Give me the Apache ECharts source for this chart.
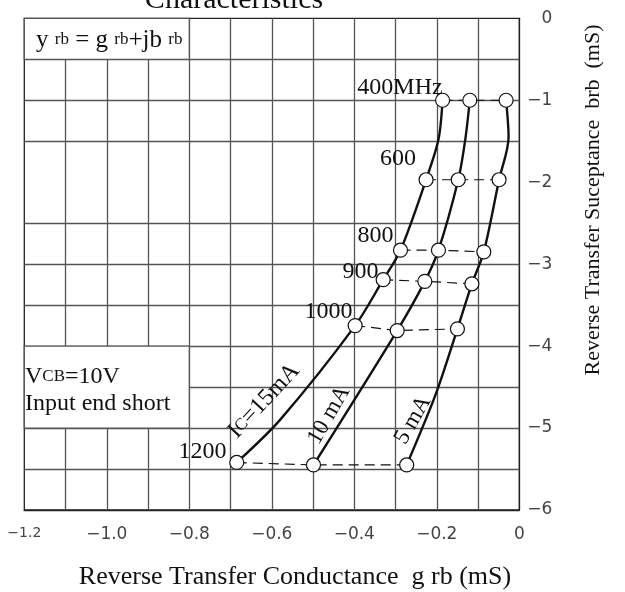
<!DOCTYPE html>
<html>
<head>
<meta charset="utf-8">
<script src="https://cdn.jsdelivr.net/npm/echarts@6/dist/echarts.min.js"></script>
<style>
html, body { margin: 0; padding: 0; background: #fff; }
#chart { width: 625px; height: 592px; }
</style>
</head>
<body>
<div id="chart"></div>
<script>
// frequencies marked with a circle on every curve
const freqs = [400, 600, 800, 900, 1000, 1200]
const freqText = ['400MHz', '600', '800', '900', '1000', '1200']

// Ic = 15 mA
const g15 = [-0.186, -0.226, -0.288, -0.330, -0.398, -0.685]
const b15 = [-1.00, -1.97, -2.83, -3.19, -3.75, -5.42]
// Ic = 10 mA
const g10 = [-0.120, -0.148, -0.196, -0.229, -0.296, -0.499]
const b10 = [-1.00, -1.97, -2.83, -3.21, -3.81, -5.45]
// Ic = 5 mA
const g5 = [-0.032, -0.049, -0.086, -0.115, -0.150, -0.273]
const b5 = [-1.00, -1.97, -2.85, -3.24, -3.79, -5.45]

const bend15 = [[-0.196, -1.48], [-0.580, -4.90]]
const bend10 = [[-0.131, -1.48]]
const bend5 = [[-0.026, -1.45], [-0.202, -4.58]]

// grid lines of the chart paper (the -2 line is not printed)
const xGrid = [-1.1, -1.0, -0.9, -0.8, -0.7, -0.6, -0.5, -0.4, -0.3, -0.2, -0.1]
const yGrid = [-0.5, -1, -1.5, -2.5, -3, -3.5, -4, -4.5, -5, -5.5]
// white label boxes cut out of the grid: [g1, b1, g2, b2]
const boxes = [[-1.2, 0, -0.8, -0.5], [-1.2, -4, -0.8, -5]]

const serif = '"Liberation Serif", "DejaVu Serif", serif'
const ink = '#111'
const paper = '#555'

const pairs = (g, b) => g.map((v, i) => [v, b[i]])
const path = (g, b, bends) => pairs(g, b).concat(bends).sort((p, q) => q[1] - p[1])

const curve = (name, data) => ({
  name,
  type: 'line',
  z: 4,
  smooth: 0.3,
  symbol: 'none',
  lineStyle: { color: ink, width: 2.4 },
  data,
})

const dashed = freqs.map((f, i) => ({
  name: f + 'MHz',
  type: 'line',
  z: 3,
  symbol: 'none',
  lineStyle: { color: ink, width: 1.2, type: [10, 6] },
  data: [[g15[i], b15[i]], [g10[i], b10[i]], [g5[i], b5[i]]],
}))

const circles = {
  type: 'scatter',
  z: 5,
  symbol: 'circle',
  symbolSize: 14,
  itemStyle: { color: '#fff', borderColor: ink, borderWidth: 1.2, opacity: 1 },
  data: pairs(g15, b15).concat(pairs(g10, b10), pairs(g5, b5)),
}

const gridLines = {
  type: 'line',
  z: 1,
  data: [],
  markLine: {
    silent: true,
    z: 1,
    animation: false,
    symbol: ['none', 'none'],
    label: { show: false },
    lineStyle: { color: paper, width: 1.3, type: 'solid' },
    data: xGrid.map(v => ({ xAxis: v })).concat(yGrid.map(v => ({ yAxis: v }))),
  },
}

const boxArea = {
  type: 'line',
  z: 2,
  data: [],
  markArea: {
    silent: true,
    z: 2,
    animation: false,
    itemStyle: { color: '#fff', borderColor: paper, borderWidth: 1.3, opacity: 1 },
    data: boxes.map(r => [{ xAxis: r[0], yAxis: r[1] }, { xAxis: r[2], yAxis: r[3] }]),
  },
}

const minus = v => (v === 0 ? '0' : '\u2212' + Math.abs(v))

const txt = (text, x, y, size, extra) => Object.assign({
  type: 'text',
  x,
  y,
  z: 10,
  style: {
    text,
    fontFamily: serif,
    fontSize: size,
    fill: ink,
    align: 'center',
    verticalAlign: 'middle',
  },
}, extra || {})

const richTxt = (text, x, y, big, small, align, rotation) => ({
  type: 'text', x, y, z: 10, rotation: rotation || 0,
  style: {
    text,
    fill: ink,
    align,
    verticalAlign: 'middle',
    rich: {
      m: { fontFamily: serif, fontSize: big, fill: ink },
      s: { fontFamily: serif, fontSize: small, fill: ink },
    },
  },
})

const deg = a => a * Math.PI / 180

const option = {
  animation: false,
  backgroundColor: '#fff',
  grid: {
    left: 24.3,
    right: 105.7,
    top: 18.3,
    bottom: 82,
    show: true,
    borderColor: '#222',
    borderWidth: 1.3,
    backgroundColor: '#fff',
  },
  xAxis: {
    type: 'value',
    min: -1.2,
    max: 0,
    interval: 0.2,
    splitLine: { show: false },
    axisTick: { show: false },
    axisLine: { show: true, onZero: false, lineStyle: { color: '#222', width: 1.3 } },
    axisLabel: {
      margin: 16,
      color: '#444',
      fontFamily: '"DejaVu Sans", sans-serif',
      fontSize: 17,
      formatter: v => {
        const s = v === 0 ? '0' : '\u2212' + Math.abs(v).toFixed(1)
        return v < -1.1 ? '{s|' + s + '}' : s
      },
      rich: { s: { fontSize: 14, fontFamily: '"DejaVu Sans", sans-serif', color: '#444' } },
    },
  },
  yAxis: {
    type: 'value',
    position: 'right',
    min: -6,
    max: 0,
    interval: 1,
    splitLine: { show: false },
    axisTick: { show: false },
    axisLine: { show: true, onZero: false, lineStyle: { color: '#222', width: 1.3 } },
    axisLabel: {
      align: 'right',
      margin: 33,
      color: '#444',
      fontFamily: '"DejaVu Sans", sans-serif',
      fontSize: 17,
      formatter: minus,
    },
  },
  series: [
    gridLines,
    boxArea,
    ...dashed,
    curve('Ic=15mA', path(g15, b15, bend15)),
    curve('10 mA', path(g10, b10, bend10)),
    curve('5 mA', path(g5, b5, bend5)),
    circles,
  ],
  graphic: [
    txt('Characteristics', 234, 0, 30),
    richTxt('{m|y }{s|rb}{m| = g }{s|rb}{m|+jb }{s|rb}', 36, 40, 25, 17, 'left'),
    richTxt('{m|V}{s|CB}{m|=10V}', 25, 377, 24, 17, 'left'),
    txt('Input end short', 25, 404, 24),
    txt(freqText[0], 400, 88, 24),
    txt(freqText[1], 398, 159, 24),
    txt(freqText[2], 375.5, 236, 24),
    txt(freqText[3], 360.5, 272, 24),
    txt(freqText[4], 328.5, 312, 24),
    txt(freqText[5], 202.5, 452, 24),
    richTxt('{m|I}{s|C}{m|=15mA}', 264, 401, 24, 17, 'center', deg(47)),
    txt('10 mA', 329, 415, 23, { rotation: deg(60) }),
    txt('5 mA', 413, 420, 23, { rotation: deg(60) }),
    txt('Reverse Transfer Conductance  g rb (mS)', 295, 577, 26),
    txt('Reverse Transfer Suceptance  brb  (mS)', 593, 200, 22, { rotation: deg(90) }),
  ],
}

// left-aligned helper text
option.graphic[3].style.align = 'left'

const chart = echarts.init(document.getElementById('chart'))
chart.setOption(option)
</script>
</body>
</html>
